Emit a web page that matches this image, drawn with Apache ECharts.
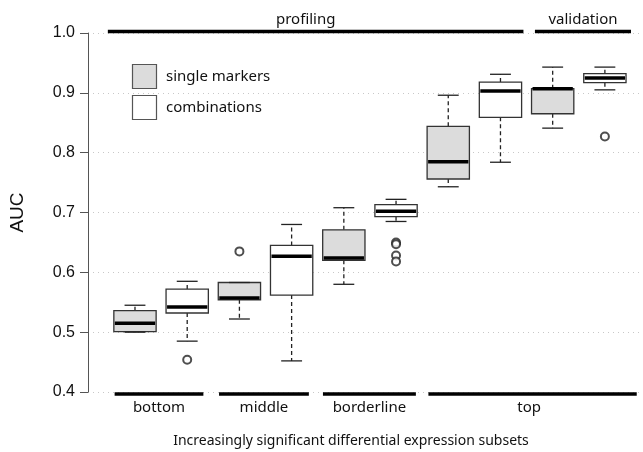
<!DOCTYPE html>
<html><head><meta charset="utf-8">
<script src="https://cdn.jsdelivr.net/npm/echarts@6/dist/echarts.min.js"></script>
<style>html,body{margin:0;padding:0;background:#fff}#c{width:643px;height:452px}</style>
</head><body><div id="c"></div>
<script>
// ---- data ----
const boxPositions = [1, 2, 3, 4, 5, 6, 7, 8, 9, 10];
const boxKinds = ['single', 'combo', 'single', 'combo', 'single', 'combo', 'single', 'combo', 'single', 'combo'];
const boxMin    = [0.500, 0.485, 0.522, 0.452, 0.580, 0.685, 0.743, 0.784, 0.841, 0.905];
const boxQ1     = [0.501, 0.532, 0.554, 0.562, 0.620, 0.693, 0.756, 0.859, 0.865, 0.917];
const boxMedian = [0.515, 0.542, 0.557, 0.627, 0.624, 0.702, 0.785, 0.903, 0.907, 0.925];
const boxQ3     = [0.536, 0.572, 0.583, 0.645, 0.671, 0.713, 0.844, 0.918, 0.907, 0.932];
const boxMax    = [0.545, 0.585, 0.583, 0.680, 0.708, 0.722, 0.896, 0.931, 0.943, 0.943];
const outlierPositions = [2, 3, 6, 6, 6, 6, 10];
const outlierValues    = [0.454, 0.635, 0.650, 0.647, 0.628, 0.618, 0.827];
const yTicks = [0.4, 0.5, 0.6, 0.7, 0.8, 0.9, 1.0];
const subsetNames    = ['bottom', 'middle', 'borderline', 'top'];
const subsetStart    = [0.61, 2.61, 4.60, 6.62];
const subsetEnd      = [2.31, 4.33, 6.38, 10.61];
const subsetLabelPos = [1.46, 3.47, 5.49, 8.55];
const phaseNames    = ['profiling', 'validation'];
const phaseStart    = [0.48, 8.66];
const phaseEnd      = [8.44, 10.50];
const phaseLabelPos = [4.27, 9.58];
const legendNames = ['single markers', 'combinations'];
const xTitle = 'Increasingly significant differential expression subsets';
const yTitle = 'AUC';

// ---- chart ----
const chart = echarts.init(document.getElementById('c'), null, {renderer: 'canvas'});
const txtFont = '"Noto Sans", sans-serif';
const boxData = boxPositions.map((p, i) => [p, boxMin[i], boxQ1[i], boxMedian[i], boxQ3[i], boxMax[i], boxKinds[i] === 'single' ? 1 : 0]);
const outlierData = outlierPositions.map((p, i) => [p, outlierValues[i]]);
const groupData = [];
subsetNames.forEach((n, i) => groupData.push([subsetStart[i], subsetEnd[i], subsetLabelPos[i], yTicks[0], n, 1]));
phaseNames.forEach((n, i) => groupData.push([phaseStart[i], phaseEnd[i], phaseLabelPos[i], yTicks[yTicks.length - 1], n, 0]));

const option = {
  animation: false,
  backgroundColor: '#fff',
  grid: {left: 86, right: 0, top: 33, bottom: 60},
  xAxis: {
    type: 'value', min: 0.1, max: 10.73,
    axisLine: {show: false}, axisTick: {show: false}, axisLabel: {show: false}, splitLine: {show: false}
  },
  yAxis: {
    type: 'value', min: yTicks[0], max: yTicks[yTicks.length - 1], interval: 0.1,
    name: yTitle, nameLocation: 'middle', nameGap: 61, nameRotate: 90,
    nameTextStyle: {fontFamily: '"Liberation Sans", Arial, sans-serif', fontSize: 19, color: '#111'},
    axisLine: {show: true, lineStyle: {color: '#555', width: 1}},
    axisTick: {show: true, length: 8, lineStyle: {color: '#555', width: 1}},
    axisLabel: {fontFamily: '"Liberation Sans", Arial, sans-serif', fontSize: 16, color: '#111', margin: 13,
      formatter: v => v.toFixed(1)},
    splitLine: {show: true, lineStyle: {color: '#c8c8c8', width: 1, type: [1, 4]}}
  },
  graphic: [
    {type: 'rect', shape: {x: 132.5, y: 64.5, width: 24, height: 24}, style: {fill: '#dcdcdc', stroke: '#555', lineWidth: 1.2}},
    {type: 'rect', shape: {x: 132.5, y: 95.5, width: 24, height: 24}, style: {fill: '#fff', stroke: '#555', lineWidth: 1.2}},
    {type: 'text', x: 166, y: 77, style: {text: legendNames[0], font: '15px ' + txtFont, fill: '#111', verticalAlign: 'middle'}},
    {type: 'text', x: 166, y: 108, style: {text: legendNames[1], font: '15px ' + txtFont, fill: '#111', verticalAlign: 'middle'}},
    {type: 'text', x: 351, y: 441, style: {text: xTitle, font: '14px ' + txtFont, fill: '#111', align: 'center', verticalAlign: 'middle'}}
  ],
  series: [
    {
      type: 'custom',
      data: boxData,
      encode: {x: 0, y: [1, 2, 3, 4, 5]},
      renderItem: function (params, api) {
        const x = api.value(0);
        const cx = api.coord([x, 0])[0];
        const yMin = api.coord([x, api.value(1)])[1];
        const yQ1 = api.coord([x, api.value(2)])[1];
        const yMed = api.coord([x, api.value(3)])[1];
        const yQ3 = api.coord([x, api.value(4)])[1];
        const yMax = api.coord([x, api.value(5)])[1];
        const hw = api.size([0.405, 0])[0];
        const cw = api.size([0.2, 0])[0];
        const fill = api.value(6) === 1 ? '#dcdcdc' : '#ffffff';
        const dash = {stroke: '#222', lineWidth: 1.3, lineDash: [4, 3]};
        const solid = {stroke: '#222', lineWidth: 1.3};
        return {
          type: 'group',
          children: [
            {type: 'line', shape: {x1: cx, y1: yQ3, x2: cx, y2: yMax}, style: dash},
            {type: 'line', shape: {x1: cx, y1: yQ1, x2: cx, y2: yMin}, style: dash},
            {type: 'rect', shape: {x: cx - hw, y: yQ3, width: 2 * hw, height: yQ1 - yQ3}, style: {fill: fill, stroke: '#333', lineWidth: 1.3}},
            {type: 'line', shape: {x1: cx - hw + 1, y1: yMed, x2: cx + hw - 1, y2: yMed}, style: {stroke: '#000', lineWidth: 3.5}},
            {type: 'line', shape: {x1: cx - cw, y1: yMax, x2: cx + cw, y2: yMax}, style: solid},
            {type: 'line', shape: {x1: cx - cw, y1: yMin, x2: cx + cw, y2: yMin}, style: solid}
          ]
        };
      }
    },
    {
      type: 'scatter',
      data: outlierData,
      symbol: 'emptyCircle',
      symbolSize: 8,
      itemStyle: {color: '#222', borderColor: '#222', borderWidth: 1.2}
    },
    {
      type: 'custom',
      data: groupData,
      encode: {x: [0, 1], y: 3},
      renderItem: function (params, api) {
        const yv = api.value(3);
        const isBottom = api.value(5) === 1;
        const p1 = api.coord([api.value(0), yv]);
        const p2 = api.coord([api.value(1), yv]);
        const pl = api.coord([api.value(2), yv]);
        const ly = isBottom ? p1[1] + 2 : p1[1] - 1.5;
        const ty = isBottom ? p1[1] + 16 : p1[1] - 13;
        return {
          type: 'group',
          children: [
            {type: 'line', shape: {x1: p1[0], y1: ly, x2: p2[0], y2: ly}, style: {stroke: '#000', lineWidth: 3.5}},
            {type: 'text', style: {text: api.value(4), x: pl[0], y: ty, align: 'center', verticalAlign: 'middle',
              font: '15px ' + txtFont, fill: '#111'}}
          ]
        };
      }
    }
  ]
};
chart.setOption(option);
</script>
</body></html>
